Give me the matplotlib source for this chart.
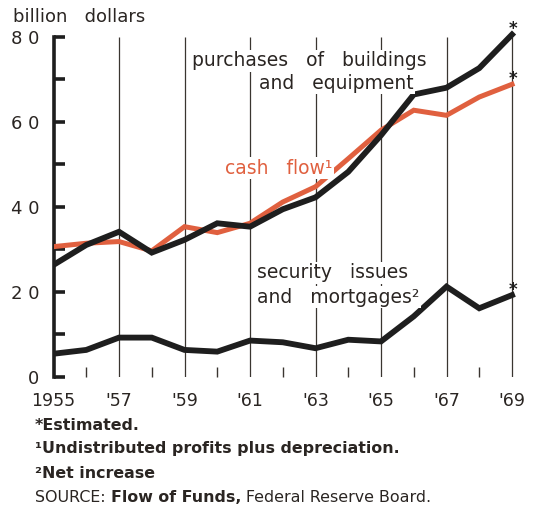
import matplotlib
matplotlib.use('Agg')
import matplotlib.pyplot as plt

years = list(range(1955, 1970))
purchases = [26.3, 31.0, 34.1, 29.2, 32.2, 36.1, 35.3, 39.4, 42.2, 48.2, 56.8, 66.4, 68.0, 72.6, 80.5]
cash_flow = [30.6, 31.4, 31.8, 29.6, 35.3, 33.9, 36.1, 41.1, 44.7, 51.3, 58.0, 62.7, 61.5, 65.8, 68.8]
security = [5.4, 6.3, 9.2, 9.2, 6.3, 5.9, 8.5, 8.1, 6.7, 8.7, 8.3, 14.2, 21.2, 16.1, 19.2]

x_labels = ['1955', "'57", "'59", "'61", "'63", "'65", "'67", "'69"]
y_labels = ['0', '', '2 0', '', '4 0', '', '6 0', '', '8 0']

RED = '#e0603f'
INK = '#1e1e1e'
TXT = '#2a2522'
plt.rcParams['font.family'] = ['DejaVu Sans']

fig = plt.figure(figsize=(5.35, 5.09), dpi=100)
W, H = 535, 509
ax = fig.add_axes([53.5 / W, (H - 376.7) / H, (522 - 53.5) / W, (376.7 - 28.2) / H])

# grid lines at odd years
odd_years = list(range(1957, 1970, 2))
ax.vlines(odd_years, 0, 80, color='#3a3530', lw=0.9, zorder=1)

ax.plot(years, cash_flow, color=RED, lw=3.6, solid_joinstyle='miter', zorder=3)
ax.plot(years, purchases, color=INK, lw=4.2, solid_joinstyle='miter', zorder=4)
ax.plot(years, security, color=INK, lw=4.2, solid_joinstyle='miter', zorder=4)

ax.set_xlim(1955, 1969 + 10 / 32.75)
ax.set_ylim(0, 82)

for s in ['top', 'right', 'bottom']:
    ax.spines[s].set_visible(False)
ax.spines['left'].set_bounds(0, 80)
ax.spines['left'].set_linewidth(2.6)
ax.spines['left'].set_color(INK)

ax.set_yticks(range(0, 81, 10))
ax.set_yticklabels(y_labels)
ax.tick_params(axis='y', direction='in', length=8, width=2.6, color=INK, pad=10,
               labelsize=13, labelcolor=TXT)

ax.set_xticks([1955] + odd_years)
ax.set_xticklabels(x_labels)
ax.set_xticks(range(1956, 1969, 2), minor=True)
ax.tick_params(axis='x', which='major', length=0, pad=11, labelsize=12.5, labelcolor=TXT)
ax.tick_params(axis='x', which='minor', direction='in', length=7, width=1, color='#3a3530')

bg = dict(facecolor='white', edgecolor='none', pad=1)
lab = dict(fontsize=13.5, va='center', ha='left', bbox=bg, zorder=5)
ax.text(1959.23, 74.3, 'purchases   of   buildings', color=TXT, **lab)
ax.text(1961.27, 69.1, 'and   equipment', color=TXT, **lab)
ax.text(1960.24, 49.1, 'cash   flow\u00b9', color=RED, **lab)
ax.text(1961.21, 24.4, 'security   issues', color=TXT, **lab)
ax.text(1961.21, 18.75, 'and   mortgages\u00b2', color=TXT, **lab)

# estimated markers
for series in [purchases, cash_flow, security]:
    ax.annotate('*', (years[-1], series[-1]), xytext=(1, 4), textcoords='offset points',
                ha='center', va='center', fontsize=12, fontweight='bold', color=INK,
                annotation_clip=False)

fig.text(13 / W, 1 - 17 / H, 'billion   dollars', fontsize=13, color=TXT, va='center')

fs = 11.4
fig.text(35 / W, 1 - 426 / H, '*Estimated.', fontsize=fs, fontweight='bold', color=TXT, va='center')
fig.text(35 / W, 1 - 449 / H, '\u00b9Undistributed profits plus depreciation.', fontsize=fs,
         fontweight='bold', color=TXT, va='center')
fig.text(35 / W, 1 - 474 / H, '\u00b2Net increase', fontsize=fs, fontweight='bold',
         color=TXT, va='center')

renderer = fig.canvas.get_renderer()
xpos = 35 / W
for part, wt in [('SOURCE: ', 'normal'), ('Flow of Funds, ', 'bold'), ('Federal Reserve Board.', 'normal')]:
    t = fig.text(xpos, 1 - 497 / H, part, fontsize=fs, fontweight=wt, color=TXT, va='center')
    bb = t.get_window_extent(renderer)
    xpos += bb.width / fig.bbox.width

fig.savefig('out.png', dpi=100)
